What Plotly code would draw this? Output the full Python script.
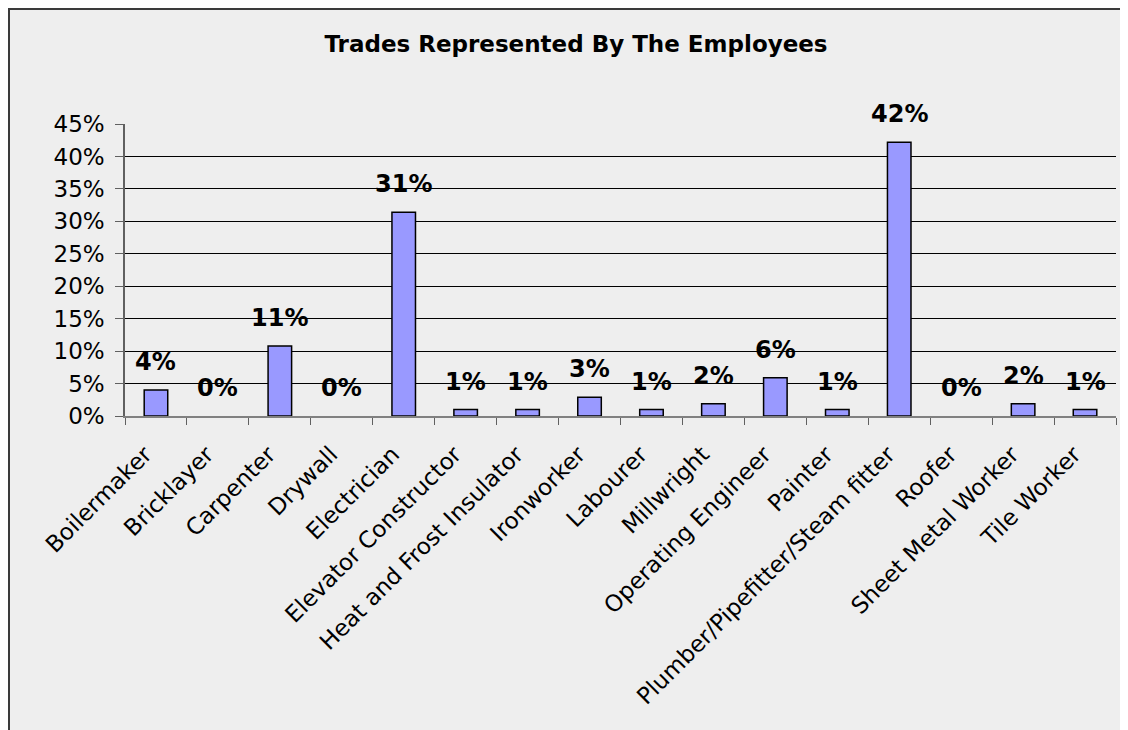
import plotly.graph_objects as go

categories = ["Boilermaker", "Bricklayer", "Carpenter", "Drywall", "Electrician",
              "Elevator Constructor", "Heat and Frost Insulator", "Ironworker",
              "Labourer", "Millwright", "Operating Engineer", "Painter",
              "Plumber/Pipefitter/Steam fitter", "Roofer", "Sheet Metal Worker",
              "Tile Worker"]
shares = [0.040, 0.0, 0.108, 0.0, 0.314, 0.010, 0.010, 0.029,
          0.010, 0.019, 0.059, 0.010, 0.422, 0.0, 0.019, 0.010]
y_ticks = [0, 0.05, 0.10, 0.15, 0.20, 0.25, 0.30, 0.35, 0.40, 0.45]
y_tick_labels = ["0%", "5%", "10%", "15%", "20%", "25%", "30%", "35%", "40%", "45%"]
title_text = "Trades Represented By The Employees"

W, H = 1128, 730
# page body adds an 8px offset; positions below are in figure coordinates
L, R, T, B = 117, 20, 116, 322
pw, ph = W - L - R, H - T - B

def px_x(p):
    return (p - L) / pw

def px_y(p):
    return (H - B - p) / ph

fig = go.Figure()
fig.add_trace(go.Bar(
    x=categories, y=shares,
    marker=dict(color="#9999FF",
                line=dict(color="#000000", width=[1.5 if v > 0 else 0 for v in shares])),
    width=0.38,
    hoverinfo="skip",
))

for c, v in zip(categories, shares):
    fig.add_annotation(
        x=c, y=v, text=f"{round(v*100)}%", showarrow=False,
        yanchor="bottom", yshift=12,
        font=dict(family="DejaVu Sans", size=24, color="#000000", weight="bold"),
    )

# chart-area background and border (top and left edges only are visible)
fig.add_shape(type="rect", xref="paper", yref="paper",
              x0=px_x(0), x1=px_x(W + 40), y0=px_y(H + 40), y1=px_y(0),
              fillcolor="#EEEEEE", line=dict(width=0), layer="below")
fig.add_shape(type="line", xref="paper", yref="paper",
              x0=px_x(0), x1=px_x(W + 40), y0=px_y(1), y1=px_y(1),
              line=dict(color="#3A3A3A", width=2), layer="below")
fig.add_shape(type="line", xref="paper", yref="paper",
              x0=px_x(1), x1=px_x(1), y0=px_y(0), y1=px_y(H + 40),
              line=dict(color="#3A3A3A", width=2), layer="below")

fig.update_layout(
    width=W, height=H,
    margin=dict(l=L, r=R, t=T, b=B),
    paper_bgcolor="#FFFFFF",
    plot_bgcolor="rgba(0,0,0,0)",
    showlegend=False,
    bargap=0.62,
    title=dict(text=title_text, xref="container", x=568 / W, xanchor="center",
               yref="container", y=1 - 36 / H, yanchor="middle",
               font=dict(family="DejaVu Sans", size=23, color="#000000", weight="bold")),
    font=dict(family="DejaVu Sans", size=23, color="#000000"),
    xaxis=dict(
        type="category", range=[-0.5, 15.5],
        showline=True, linecolor="#808080", linewidth=1.5,
        ticks="outside", ticklen=7, tickcolor="#606060", tickwidth=1,
        tickson="boundaries", tickangle=-45, showgrid=False,
        ticklabelstandoff=14, ticklabelshift=-11,
        tickfont=dict(family="DejaVu Sans", size=23, color="#000000"),
    ),
    yaxis=dict(
        range=[0, 0.45], tickvals=y_ticks, ticktext=y_tick_labels,
        showgrid=True, gridcolor="#000000", gridwidth=1,
        showline=True, linecolor="#606060", linewidth=1.5,
        ticks="outside", ticklen=8, tickcolor="#606060",
        zeroline=False, ticklabelstandoff=6,
        tickfont=dict(family="DejaVu Sans", size=23, color="#000000"),
    ),
)

fig.write_html("out.html")
